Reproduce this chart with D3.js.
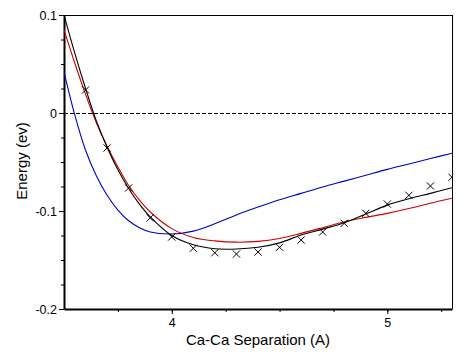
<!DOCTYPE html>
<html>
<head>
<meta charset="utf-8">
<script src="https://cdn.jsdelivr.net/npm/d3@7"></script>
<style>
  body { margin: 0; background: #fff; }
  svg { display: block; font-family: "Liberation Sans", Arial, sans-serif; }
  .axis text { font-size: 12.5px; fill: #000; }
  .axis path, .axis line { stroke: #000; }
  .label { font-size: 15px; fill: #000; }
</style>
</head>
<body>
<script>
// separation (A) for the sample points of the curves
const curveX = [3.5, 3.55, 3.6, 3.65, 3.7, 3.75, 3.8, 3.85, 3.9, 4.0, 4.1, 4.2, 4.3, 4.4, 4.5, 4.6, 4.7, 4.8, 4.9, 5.0, 5.1, 5.2, 5.3]
const blackFit = [0.100, 0.061, 0.025, -0.008, -0.035, -0.058, -0.077, -0.093, -0.106, -0.125, -0.1345, -0.1385, -0.1388, -0.137, -0.1325, -0.1245, -0.1185, -0.112, -0.103, -0.094, -0.0875, -0.082, -0.0762]
const redFit = [0.085, 0.051, 0.019, -0.010, -0.034, -0.055, -0.074, -0.089, -0.101, -0.118, -0.127, -0.1305, -0.1318, -0.131, -0.128, -0.1228, -0.117, -0.111, -0.1065, -0.1024, -0.0975, -0.092, -0.087]
const blueFit = [0.042, -0.002, -0.038, -0.064, -0.084, -0.099, -0.110, -0.117, -0.1215, -0.1235, -0.1205, -0.113, -0.104, -0.096, -0.0885, -0.082, -0.0755, -0.0695, -0.0635, -0.0575, -0.052, -0.0465, -0.041]

// calculated points (crosses)
const pointX = [3.6, 3.7, 3.8, 3.9, 4.0, 4.1, 4.2, 4.3, 4.4, 4.5, 4.6, 4.7, 4.8, 4.9, 5.0, 5.1, 5.2, 5.3]
const pointE = [0.0235, -0.0357, -0.0765, -0.107, -0.1265, -0.138, -0.1426, -0.1439, -0.1418, -0.137, -0.1296, -0.1214, -0.1126, -0.1024, -0.0929, -0.084, -0.0745, -0.0656]

const xTicks = [4, 5]
const yTicks = [-0.2, -0.1, 0, 0.1]

const width = 466
const height = 364
const plotLeft = 64, plotRight = 452, plotTop = 15, plotBottom = 309

const svg = d3.select('body').append('svg')
    .attr('width', width)
    .attr('height', height)

const x = d3.scaleLinear().domain([3.5, 5.3]).range([plotLeft, plotRight])
const y = d3.scaleLinear().domain([-0.2, 0.1]).range([plotBottom, plotTop])

svg.append('defs').append('clipPath').attr('id', 'plot')
    .append('rect').attr('x', plotLeft).attr('y', plotTop)
    .attr('width', plotRight - plotLeft).attr('height', plotBottom - plotTop)

// thin frame on top and right
svg.append('line').attr('x1', plotLeft).attr('x2', plotRight).attr('y1', plotTop + 0.5).attr('y2', plotTop + 0.5).attr('stroke', '#000')
svg.append('line').attr('x1', plotRight + 0.5).attr('x2', plotRight + 0.5).attr('y1', plotTop).attr('y2', plotBottom).attr('stroke', '#000')

// zero line
svg.append('line')
    .attr('x1', plotLeft).attr('x2', plotRight)
    .attr('y1', Math.round(y(0)) + 0.5).attr('y2', Math.round(y(0)) + 0.5)
    .attr('stroke', '#000').attr('stroke-dasharray', '4,2')

// minor ticks
svg.append('g').attr('class', 'axis').attr('transform', `translate(0,${plotBottom})`)
    .call(d3.axisBottom(x).tickValues(d3.range(3.75, 5.3, 0.25)).tickSize(3).tickSizeOuter(0).tickFormat(''))
    .select('.domain').remove()
svg.append('g').attr('class', 'axis').attr('transform', `translate(${plotLeft},0)`)
    .call(d3.axisLeft(y).tickValues(d3.range(-0.175, 0.1, 0.025)).tickSize(3).tickSizeOuter(0).tickFormat(''))
    .select('.domain').remove()

// major axes
const xAxis = svg.append('g').attr('class', 'axis').attr('transform', `translate(0,${plotBottom})`)
    .call(d3.axisBottom(x).tickValues(xTicks).tickSize(5).tickSizeOuter(0).tickFormat(d => String(d)))
xAxis.select('.domain').attr('stroke-width', 2)
xAxis.selectAll('text').attr('y', 9)

const yAxis = svg.append('g').attr('class', 'axis').attr('transform', `translate(${plotLeft},0)`)
    .call(d3.axisLeft(y).tickValues(yTicks).tickSize(5).tickSizeOuter(0).tickFormat(d => String(d)))
yAxis.select('.domain').attr('stroke-width', 2)
yAxis.selectAll('text').attr('x', -7)

// curves
const plot = svg.append('g').attr('clip-path', 'url(#plot)')
const line = d3.line().x(d => x(d[0])).y(d => y(d[1])).curve(d3.curveCatmullRom.alpha(0.5))
const series = [
    { values: blueFit, color: '#0000c0' },
    { values: redFit, color: '#d00000' },
    { values: blackFit, color: '#000' }
]
series.forEach(s => {
    plot.append('path')
        .datum(curveX.map((v, i) => [v, s.values[i]]))
        .attr('d', line)
        .attr('fill', 'none')
        .attr('stroke', s.color)
        .attr('stroke-width', 1.1)
})

// crosses
const cross = d3.symbol().type(d3.symbolX).size(36)
plot.selectAll('.pt').data(pointX.map((v, i) => [v, pointE[i]])).enter().append('path')
    .attr('class', 'pt')
    .attr('transform', d => `translate(${x(d[0])},${y(d[1])})`)
    .attr('d', cross)
    .attr('fill', 'none')
    .attr('stroke', '#000')
    .attr('stroke-width', 1)

// labels
svg.append('text').attr('class', 'label')
    .attr('x', (plotLeft + plotRight) / 2).attr('y', 345)
    .attr('text-anchor', 'middle')
    .text('Ca-Ca Separation (A)')
svg.append('text').attr('class', 'label')
    .attr('transform', 'translate(27,161) rotate(-90)')
    .attr('text-anchor', 'middle')
    .text('Energy (ev)')
</script>
</body>
</html>
